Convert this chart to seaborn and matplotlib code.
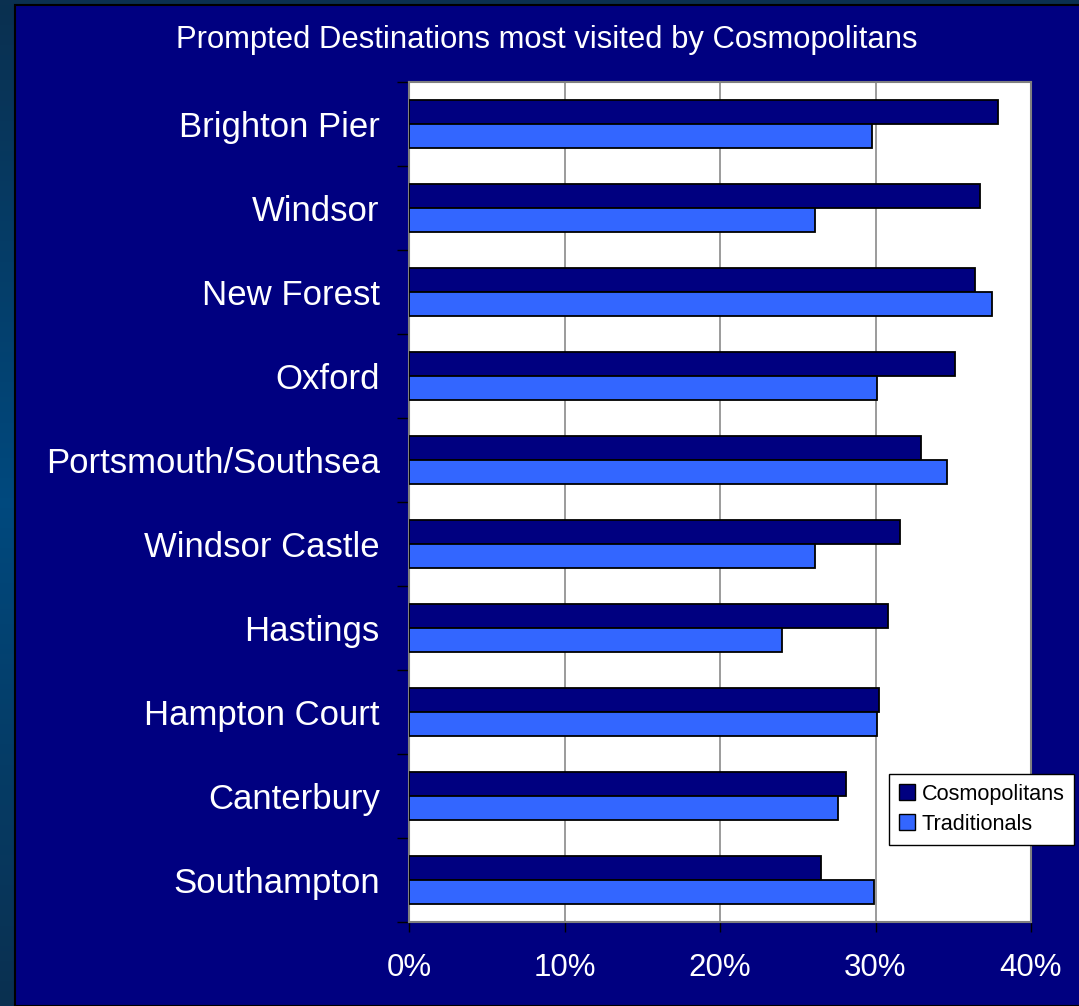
import numpy as np
import pandas as pd
import matplotlib
matplotlib.use("Agg")
import matplotlib.pyplot as plt
from matplotlib.patches import Rectangle, Patch
from matplotlib.colors import LinearSegmentedColormap
import seaborn as sns

categories = ["Brighton Pier", "Windsor", "New Forest", "Oxford", "Portsmouth/Southsea",
              "Windsor Castle", "Hastings", "Hampton Court", "Canterbury", "Southampton"]
cosmopolitans = [37.9, 36.7, 36.4, 35.1, 32.9, 31.6, 30.8, 30.2, 28.1, 26.5]
traditionals = [29.8, 26.1, 37.5, 30.1, 34.6, 26.1, 24.0, 30.1, 27.6, 29.9]
series_names = ["Cosmopolitans", "Traditionals"]
x_ticks = [0, 10, 20, 30, 40]
x_tick_labels = ["0%", "10%", "20%", "30%", "40%"]
title = "Prompted Destinations most visited by Cosmopolitans"

NAVY = "#000080"
BLUE = "#3366FF"

df = pd.DataFrame({
    "Destination": categories * 2,
    "Share": cosmopolitans + traditionals,
    "Segment": [series_names[0]] * len(categories) + [series_names[1]] * len(categories),
})

sns.set_theme(style="white")
plt.rcParams["font.family"] = ["Liberation Sans", "DejaVu Sans"]

W, H = 1079, 1006
fig = plt.figure(figsize=(W / 100, H / 100), dpi=100)
fig.patch.set_facecolor("#003a66")

# background gradient
bg = fig.add_axes([0, 0, 1, 1], zorder=-3)
grad = np.array([0.0, 0.5, 1.0, 0.5, 0.0])
grad = np.interp(np.linspace(0, 4, 200), np.arange(5), grad)[:, None]
cmap = LinearSegmentedColormap.from_list("g", ["#0a3050", "#00497e"])
bg.imshow(grad, aspect="auto", cmap=cmap, extent=[0, 1, 0, 1])
bg.set_axis_off()

# navy panel
panel = Rectangle((15 / W, 0), 1 - 15 / W + 0.01, 1 - 5 / H, transform=fig.transFigure,
                  facecolor=NAVY, edgecolor="#000000", linewidth=1.5, zorder=-2)
fig.patches.append(panel)

ax = fig.add_axes([409 / W, 1 - 922 / H, (1031 - 409) / W, (922 - 82) / H])
ax.set_facecolor("white")

sns.barplot(data=df, y="Destination", x="Share", hue="Segment", orient="h",
            palette=[NAVY, BLUE], width=0.571, edgecolor="black", linewidth=1.3,
            saturation=1, ax=ax, legend=False, zorder=3)

ax.set_xlim(0, 40)
ax.set_ylim(len(categories) - 0.5, -0.5)
ax.set_xticks(x_ticks)
ax.set_xticklabels(x_tick_labels)
ax.set_xlabel("")
ax.set_ylabel("")
ax.grid(False)
for xv in x_ticks[1:-1]:
    ax.axvline(xv, color="#808080", linewidth=1.1, zorder=1)

for s in ax.spines.values():
    s.set_color("#808080")
    s.set_linewidth(1.5)
    s.set_visible(True)

ax.tick_params(axis="x", direction="out", length=7, width=1, color="#000000",
               labelsize=22.5, labelcolor="white", pad=15, bottom=True)
ax.tick_params(axis="y", which="major", length=0, labelsize=25, labelcolor="white", pad=21)
ax.set_yticks(np.arange(-0.5, len(categories), 1.0), minor=True)
ax.tick_params(axis="y", which="minor", direction="out", length=9, width=1, color="#000000", left=True)

fig.text(547 / W, 1 - 40 / H, title, color="white", fontsize=22.3, ha="center", va="center")

handles = [Patch(facecolor=NAVY, edgecolor="black", label=series_names[0]),
           Patch(facecolor=BLUE, edgecolor="black", label=series_names[1])]
leg = fig.legend(handles=handles, loc="upper left", bbox_to_anchor=(889 / W, 1 - 774 / H),
                 frameon=True, fancybox=False, fontsize=15.6, handlelength=0.75, handleheight=0.75,
                 handletextpad=0.3, borderpad=0.45, labelspacing=0.42, borderaxespad=0)
leg.get_frame().set_edgecolor("black")
leg.get_frame().set_facecolor("white")
leg.get_frame().set_linewidth(1)
leg.get_frame().set_alpha(1)
for t in leg.get_texts():
    t.set_color("black")

fig.savefig("out.png", dpi=100, facecolor=fig.get_facecolor())
